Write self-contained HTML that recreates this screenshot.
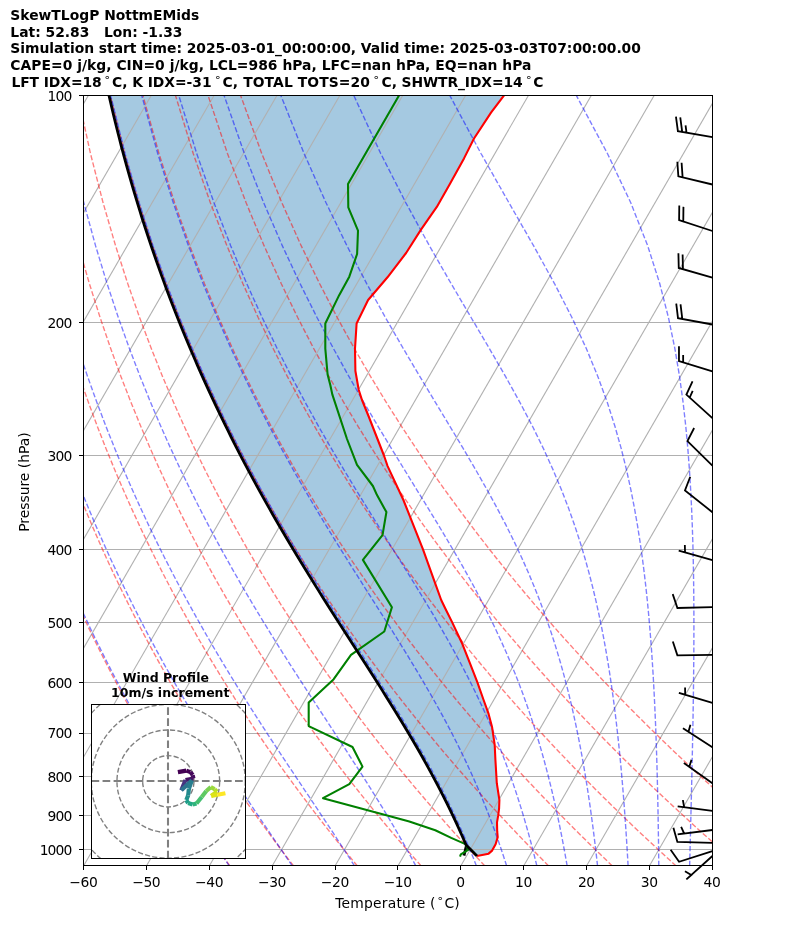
<!DOCTYPE html>
<html lang="en"><head><meta charset="utf-8"><title>SkewTLogP NottmEMids</title>
<style>html,body{margin:0;padding:0;background:#fff}svg{display:block}</style></head>
<body>
<svg width="794" height="937" viewBox="0 0 794 937" font-family="'DejaVu Sans', 'Liberation Sans', sans-serif">
<rect width="794" height="937" fill="#fff"/>
<defs><clipPath id="ax"><rect x="83.5" y="95.5" width="629.0" height="770.0"/></clipPath></defs>
<g clip-path="url(#ax)">
<path d="M477.00 855.90 L466.10 845.00 L463.72 839.49 L461.28 833.97 L458.80 828.46 L456.28 822.95 L453.70 817.43 L451.07 811.92 L448.40 806.41 L445.68 800.89 L442.91 795.38 L440.09 789.86 L437.22 784.35 L434.31 778.84 L431.35 773.32 L428.35 767.81 L425.30 762.30 L422.22 756.78 L419.09 751.27 L415.91 745.76 L412.71 740.24 L409.46 734.73 L406.18 729.22 L402.87 723.70 L399.52 718.19 L396.15 712.68 L392.75 707.16 L389.32 701.65 L385.87 696.14 L382.41 690.62 L378.92 685.11 L375.42 679.59 L371.91 674.08 L368.38 668.57 L364.85 663.05 L361.31 657.54 L357.76 652.03 L354.21 646.51 L350.67 641.00 L347.12 635.49 L343.58 629.97 L340.04 624.46 L336.51 618.95 L332.99 613.43 L329.48 607.92 L325.99 602.41 L322.50 596.89 L319.04 591.38 L315.58 585.87 L312.15 580.35 L308.73 574.84 L305.34 569.32 L301.96 563.81 L298.60 558.30 L295.27 552.78 L291.96 547.27 L288.67 541.76 L285.41 536.24 L282.17 530.73 L278.95 525.22 L275.76 519.70 L272.60 514.19 L269.46 508.68 L266.35 503.16 L263.26 497.65 L260.21 492.14 L257.17 486.62 L254.17 481.11 L251.19 475.59 L248.24 470.08 L245.32 464.57 L242.43 459.05 L239.56 453.54 L236.72 448.03 L233.91 442.51 L231.13 437.00 L228.37 431.49 L225.64 425.97 L222.94 420.46 L220.27 414.95 L217.62 409.43 L215.00 403.92 L212.41 398.41 L209.85 392.89 L207.31 387.38 L204.80 381.87 L202.32 376.35 L199.86 370.84 L197.43 365.32 L195.03 359.81 L192.66 354.30 L190.31 348.78 L187.99 343.27 L185.69 337.76 L183.42 332.24 L181.17 326.73 L178.96 321.22 L176.76 315.70 L174.60 310.19 L172.46 304.68 L170.34 299.16 L168.25 293.65 L166.18 288.14 L164.15 282.62 L162.13 277.11 L160.14 271.60 L158.18 266.08 L156.23 260.57 L154.32 255.05 L152.43 249.54 L150.56 244.03 L148.72 238.51 L146.90 233.00 L145.10 227.49 L143.33 221.97 L141.59 216.46 L139.86 210.95 L138.16 205.43 L136.49 199.92 L134.83 194.41 L133.20 188.89 L131.59 183.38 L130.01 177.87 L128.45 172.35 L126.91 166.84 L125.40 161.32 L123.90 155.81 L122.43 150.30 L120.98 144.78 L119.56 139.27 L118.15 133.76 L116.77 128.24 L115.41 122.73 L114.07 117.22 L112.75 111.70 L111.46 106.19 L110.19 100.68 L108.93 95.16 L107.70 89.65 L106.49 84.14 L105.30 78.62 L508.20 90.00 L503.90 95.60 L491.00 112.60 L474.00 138.50 L464.00 158.40 L450.00 183.80 L436.80 206.90 L420.80 229.90 L406.10 253.00 L387.50 277.30 L368.10 300.00 L356.60 323.50 L355.00 348.70 L355.40 371.00 L358.70 389.80 L362.00 400.00 L368.50 416.00 L383.95 455.50 L387.60 466.10 L403.40 500.00 L422.90 549.10 L435.10 583.20 L441.20 600.00 L445.30 608.50 L452.20 622.40 L461.80 642.70 L469.80 662.90 L477.30 682.20 L483.60 700.00 L488.60 713.90 L492.00 726.70 L494.70 744.80 L495.40 759.70 L496.80 783.20 L499.40 800.00 L499.10 808.30 L498.20 815.40 L497.00 822.40 L497.20 831.40 L497.70 837.10 L495.60 844.20 L492.10 850.60 L488.60 853.65 L477.00 855.90Z" fill="#1f77b4" fill-opacity="0.4"/>
<g fill="none" stroke="#b0b0b0" stroke-width="1.11">
<path d="M83.5 95.5 H712.5"/>
<path d="M83.5 322.5 H712.5"/>
<path d="M83.5 455.5 H712.5"/>
<path d="M83.5 549.5 H712.5"/>
<path d="M83.5 622.5 H712.5"/>
<path d="M83.5 682.5 H712.5"/>
<path d="M83.5 733.5 H712.5"/>
<path d="M83.5 776.5 H712.5"/>
<path d="M83.5 815.5 H712.5"/>
<path d="M83.5 849.5 H712.5"/>
<path d="M-419.41 865.93 L25.44 95.43"/>
<path d="M-356.54 865.93 L88.31 95.43"/>
<path d="M-293.67 865.93 L151.18 95.43"/>
<path d="M-230.80 865.93 L214.05 95.43"/>
<path d="M-167.93 865.93 L276.92 95.43"/>
<path d="M-105.06 865.93 L339.79 95.43"/>
<path d="M-42.19 865.93 L402.66 95.43"/>
<path d="M20.68 865.93 L465.53 95.43"/>
<path d="M83.55 865.93 L528.40 95.43"/>
<path d="M146.42 865.93 L591.27 95.43"/>
<path d="M209.29 865.93 L654.14 95.43"/>
<path d="M272.16 865.93 L717.01 95.43"/>
<path d="M335.03 865.93 L779.88 95.43"/>
<path d="M397.90 865.93 L842.75 95.43"/>
<path d="M460.77 865.93 L905.62 95.43"/>
<path d="M523.64 865.93 L968.49 95.43"/>
<path d="M586.51 865.93 L1031.36 95.43"/>
<path d="M649.38 865.93 L1094.23 95.43"/>
<path d="M712.25 865.93 L1157.10 95.43"/>
</g>
<g fill="none" stroke="#ff0000" stroke-opacity="0.5" stroke-width="1.39" stroke-dasharray="5.14 2.22">
<path d="M229.87 865.93 L225.50 859.82 L221.09 853.60 L216.64 847.26 L212.15 840.79 L207.62 834.19 L203.04 827.45 L198.42 820.58 L193.75 813.55 L189.04 806.38 L184.27 799.04 L179.46 791.53 L174.60 783.85 L169.68 775.99 L164.71 767.93 L159.68 759.66 L154.60 751.19 L149.46 742.48 L144.26 733.54 L138.99 724.35 L133.66 714.90 L128.27 705.16 L122.81 695.13 L117.28 684.78 L111.68 674.09 L106.00 663.04 L100.25 651.60 L94.41 639.75 L88.50 627.46 L82.50 614.69 L76.42 601.40 L70.25 587.54 L63.98 573.08 L57.63 557.95 L51.18 542.08 L44.63 525.41 L37.98 507.84 L31.23 489.28 L24.39 469.60 L17.44 448.67 L10.41 426.30 L3.28 402.30 L-3.92 376.40 L-11.18 348.27 L-18.47 317.51 L-25.75 283.55 L-32.94 245.66 L-39.94 202.81 L-46.56 153.50 L-52.46 95.43"/>
<path d="M293.62 865.93 L288.91 859.82 L284.16 853.60 L279.37 847.26 L274.52 840.79 L269.63 834.19 L264.69 827.45 L259.70 820.58 L254.66 813.55 L249.56 806.38 L244.41 799.04 L239.21 791.53 L233.95 783.85 L228.62 775.99 L223.24 767.93 L217.79 759.66 L212.28 751.19 L206.70 742.48 L201.06 733.54 L195.34 724.35 L189.55 714.90 L183.69 705.16 L177.74 695.13 L171.72 684.78 L165.61 674.09 L159.41 663.04 L153.13 651.60 L146.75 639.75 L140.28 627.46 L133.71 614.69 L127.04 601.40 L120.26 587.54 L113.37 573.08 L106.37 557.95 L99.25 542.08 L92.00 525.41 L84.64 507.84 L77.14 489.28 L69.51 469.60 L61.75 448.67 L53.86 426.30 L45.84 402.30 L37.68 376.40 L29.42 348.27 L21.05 317.51 L12.62 283.55 L4.18 245.66 L-4.18 202.81 L-12.30 153.50 L-19.90 95.43"/>
<path d="M357.37 865.93 L352.33 859.82 L347.23 853.60 L342.09 847.26 L336.89 840.79 L331.64 834.19 L326.34 827.45 L320.98 820.58 L315.57 813.55 L310.09 806.38 L304.56 799.04 L298.96 791.53 L293.30 783.85 L287.57 775.99 L281.77 767.93 L275.90 759.66 L269.97 751.19 L263.95 742.48 L257.86 733.54 L251.69 724.35 L245.44 714.90 L239.10 705.16 L232.67 695.13 L226.15 684.78 L219.54 674.09 L212.83 663.04 L206.02 651.60 L199.10 639.75 L192.07 627.46 L184.92 614.69 L177.66 601.40 L170.27 587.54 L162.76 573.08 L155.11 557.95 L147.31 542.08 L139.38 525.41 L131.29 507.84 L123.05 489.28 L114.64 469.60 L106.06 448.67 L97.31 426.30 L88.39 402.30 L79.29 376.40 L70.01 348.27 L60.57 317.51 L50.99 283.55 L41.30 245.66 L31.58 202.81 L21.95 153.50 L12.67 95.43"/>
<path d="M421.12 865.93 L415.74 859.82 L410.30 853.60 L404.81 847.26 L399.26 840.79 L393.66 834.19 L387.99 827.45 L382.26 820.58 L376.47 813.55 L370.62 806.38 L364.70 799.04 L358.71 791.53 L352.64 783.85 L346.51 775.99 L340.30 767.93 L334.02 759.66 L327.65 751.19 L321.20 742.48 L314.66 733.54 L308.04 724.35 L301.32 714.90 L294.51 705.16 L287.60 695.13 L280.59 684.78 L273.47 674.09 L266.25 663.04 L258.90 651.60 L251.44 639.75 L243.85 627.46 L236.13 614.69 L228.28 601.40 L220.28 587.54 L212.14 573.08 L203.84 557.95 L195.38 542.08 L186.75 525.41 L177.95 507.84 L168.95 489.28 L159.76 469.60 L150.37 448.67 L140.77 426.30 L130.94 402.30 L120.89 376.40 L110.61 348.27 L100.09 317.51 L89.36 283.55 L78.42 245.66 L67.34 202.81 L56.21 153.50 L45.23 95.43"/>
<path d="M484.88 865.93 L479.15 859.82 L473.37 853.60 L467.53 847.26 L461.63 840.79 L455.67 834.19 L449.64 827.45 L443.54 820.58 L437.38 813.55 L431.14 806.38 L424.84 799.04 L418.45 791.53 L411.99 783.85 L405.45 775.99 L398.83 767.93 L392.13 759.66 L385.33 751.19 L378.45 742.48 L371.47 733.54 L364.39 724.35 L357.21 714.90 L349.93 705.16 L342.53 695.13 L335.03 684.78 L327.41 674.09 L319.66 663.04 L311.79 651.60 L303.78 639.75 L295.63 627.46 L287.34 614.69 L278.90 601.40 L270.30 587.54 L261.53 573.08 L252.58 557.95 L243.45 542.08 L234.13 525.41 L224.60 507.84 L214.86 489.28 L204.89 469.60 L194.68 448.67 L184.22 426.30 L173.50 402.30 L162.49 376.40 L151.20 348.27 L139.61 317.51 L127.73 283.55 L115.54 245.66 L103.10 202.81 L90.46 153.50 L77.79 95.43"/>
<path d="M548.63 865.93 L542.57 859.82 L536.44 853.60 L530.26 847.26 L524.00 840.79 L517.68 834.19 L511.29 827.45 L504.82 820.58 L498.29 813.55 L491.67 806.38 L484.98 799.04 L478.20 791.53 L471.34 783.85 L464.40 775.99 L457.36 767.93 L450.24 759.66 L443.01 751.19 L435.69 742.48 L428.27 733.54 L420.74 724.35 L413.10 714.90 L405.34 705.16 L397.47 695.13 L389.47 684.78 L381.34 674.09 L373.08 663.04 L364.67 651.60 L356.12 639.75 L347.42 627.46 L338.55 614.69 L329.52 601.40 L320.31 587.54 L310.91 573.08 L301.32 557.95 L291.52 542.08 L281.50 525.41 L271.26 507.84 L260.76 489.28 L250.01 469.60 L238.99 448.67 L227.67 426.30 L216.05 402.30 L204.10 376.40 L191.80 348.27 L179.13 317.51 L166.09 283.55 L152.66 245.66 L138.86 202.81 L124.72 153.50 L110.36 95.43"/>
<path d="M612.38 865.93 L605.98 859.82 L599.52 853.60 L592.98 847.26 L586.37 840.79 L579.69 834.19 L572.94 827.45 L566.10 820.58 L559.19 813.55 L552.20 806.38 L545.12 799.04 L537.95 791.53 L530.69 783.85 L523.34 775.99 L515.89 767.93 L508.35 759.66 L500.70 751.19 L492.94 742.48 L485.07 733.54 L477.09 724.35 L468.98 714.90 L460.75 705.16 L452.40 695.13 L443.90 684.78 L435.27 674.09 L426.49 663.04 L417.56 651.60 L408.46 639.75 L399.20 627.46 L389.76 614.69 L380.14 601.40 L370.32 587.54 L360.30 573.08 L350.06 557.95 L339.59 542.08 L328.88 525.41 L317.91 507.84 L306.67 489.28 L295.14 469.60 L283.30 448.67 L271.13 426.30 L258.60 402.30 L245.70 376.40 L232.39 348.27 L218.66 317.51 L204.46 283.55 L189.78 245.66 L174.62 202.81 L158.97 153.50 L142.92 95.43"/>
<path d="M676.13 865.93 L669.40 859.82 L662.59 853.60 L655.70 847.26 L648.74 840.79 L641.71 834.19 L634.59 827.45 L627.39 820.58 L620.10 813.55 L612.72 806.38 L605.26 799.04 L597.70 791.53 L590.04 783.85 L582.29 775.99 L574.43 767.93 L566.46 759.66 L558.38 751.19 L550.19 742.48 L541.87 733.54 L533.44 724.35 L524.87 714.90 L516.17 705.16 L507.33 695.13 L498.34 684.78 L489.20 674.09 L479.91 663.04 L470.44 651.60 L460.81 639.75 L450.99 627.46 L440.97 614.69 L430.76 601.40 L420.34 587.54 L409.69 573.08 L398.80 557.95 L387.66 542.08 L376.25 525.41 L364.57 507.84 L352.58 489.28 L340.26 469.60 L327.61 448.67 L314.58 426.30 L301.16 402.30 L287.30 376.40 L272.99 348.27 L258.18 317.51 L242.83 283.55 L226.91 245.66 L210.38 202.81 L193.22 153.50 L175.48 95.43"/>
<path d="M739.89 865.93 L732.81 859.82 L725.66 853.60 L718.43 847.26 L711.11 840.79 L703.72 834.19 L696.24 827.45 L688.67 820.58 L681.01 813.55 L673.25 806.38 L665.40 799.04 L657.45 791.53 L649.39 783.85 L641.23 775.99 L632.96 767.93 L624.57 759.66 L616.06 751.19 L607.43 742.48 L598.68 733.54 L589.78 724.35 L580.76 714.90 L571.58 705.16 L562.26 695.13 L552.78 684.78 L543.14 674.09 L533.32 663.04 L523.33 651.60 L513.15 639.75 L502.77 627.46 L492.19 614.69 L481.38 601.40 L470.35 587.54 L459.07 573.08 L447.54 557.95 L435.73 542.08 L423.63 525.41 L411.22 507.84 L398.48 489.28 L385.39 469.60 L371.92 448.67 L358.03 426.30 L343.71 402.30 L328.91 376.40 L313.58 348.27 L297.70 317.51 L281.20 283.55 L264.03 245.66 L246.14 202.81 L227.48 153.50 L208.05 95.43"/>
<path d="M803.64 865.93 L796.22 859.82 L788.73 853.60 L781.15 847.26 L773.48 840.79 L765.73 834.19 L757.89 827.45 L749.95 820.58 L741.91 813.55 L733.78 806.38 L725.54 799.04 L717.20 791.53 L708.74 783.85 L700.17 775.99 L691.49 767.93 L682.68 759.66 L673.75 751.19 L664.68 742.48 L655.48 733.54 L646.13 724.35 L636.64 714.90 L627.00 705.16 L617.19 695.13 L607.22 684.78 L597.07 674.09 L586.74 663.04 L576.22 651.60 L565.49 639.75 L554.55 627.46 L543.40 614.69 L532.00 601.40 L520.36 587.54 L508.46 573.08 L496.27 557.95 L483.80 542.08 L471.00 525.41 L457.88 507.84 L444.39 489.28 L430.51 469.60 L416.22 448.67 L401.49 426.30 L386.26 402.30 L370.51 376.40 L354.18 348.27 L337.22 317.51 L319.56 283.55 L301.15 245.66 L281.89 202.81 L261.73 153.50 L240.61 95.43"/>
</g>
<g fill="none" stroke="#0000ff" stroke-opacity="0.5" stroke-width="1.39" stroke-dasharray="5.14 2.22">
<path d="M229.30 865.93 L225.17 859.82 L220.97 853.60 L216.72 847.26 L212.41 840.79 L208.04 834.19 L203.62 827.45 L199.13 820.58 L194.58 813.55 L189.97 806.38 L185.31 799.04 L180.58 791.53 L175.79 783.85 L170.93 775.99 L166.02 767.93 L161.04 759.66 L155.99 751.19 L150.89 742.48 L145.71 733.54 L140.47 724.35 L135.15 714.90 L129.77 705.16 L124.31 695.13 L118.79 684.78 L113.18 674.09 L107.50 663.04 L101.74 651.60 L95.90 639.75 L89.98 627.46 L83.97 614.69 L77.87 601.40 L71.68 587.54 L65.40 573.08 L59.03 557.95 L52.56 542.08 L45.99 525.41 L39.33 507.84 L32.56 489.28 L25.69 469.60 L18.72 448.67 L11.66 426.30 L4.51 402.30 L-2.72 376.40 L-10.01 348.27 L-17.33 317.51 L-24.64 283.55 L-31.87 245.66 L-38.91 202.81 L-45.57 153.50 L-51.52 95.43"/>
<path d="M292.25 865.93 L288.11 859.82 L283.88 853.60 L279.57 847.26 L275.17 840.79 L270.70 834.19 L266.14 827.45 L261.50 820.58 L256.77 813.55 L251.97 806.38 L247.08 799.04 L242.10 791.53 L237.05 783.85 L231.91 775.99 L226.68 767.93 L221.37 759.66 L215.98 751.19 L210.50 742.48 L204.94 733.54 L199.28 724.35 L193.55 714.90 L187.72 705.16 L181.80 695.13 L175.79 684.78 L169.69 674.09 L163.49 663.04 L157.20 651.60 L150.80 639.75 L144.31 627.46 L137.71 614.69 L131.00 601.40 L124.18 587.54 L117.25 573.08 L110.20 557.95 L103.03 542.08 L95.74 525.41 L88.32 507.84 L80.76 489.28 L73.08 469.60 L65.25 448.67 L57.29 426.30 L49.20 402.30 L40.97 376.40 L32.62 348.27 L24.17 317.51 L15.65 283.55 L7.11 245.66 L-1.36 202.81 L-9.60 153.50 L-17.33 95.43"/>
<path d="M354.49 865.93 L350.61 859.82 L346.62 853.60 L342.52 847.26 L338.32 840.79 L334.00 834.19 L329.56 827.45 L325.02 820.58 L320.35 813.55 L315.57 806.38 L310.68 799.04 L305.66 791.53 L300.53 783.85 L295.27 775.99 L289.90 767.93 L284.41 759.66 L278.80 751.19 L273.07 742.48 L267.22 733.54 L261.26 724.35 L255.17 714.90 L248.96 705.16 L242.64 695.13 L236.19 684.78 L229.62 674.09 L222.92 663.04 L216.11 651.60 L209.16 639.75 L202.09 627.46 L194.89 614.69 L187.55 601.40 L180.08 587.54 L172.47 573.08 L164.71 557.95 L156.80 542.08 L148.74 525.41 L140.52 507.84 L132.13 489.28 L123.57 469.60 L114.84 448.67 L105.92 426.30 L96.82 402.30 L87.53 376.40 L78.05 348.27 L68.40 317.51 L58.59 283.55 L48.65 245.66 L38.66 202.81 L28.74 153.50 L19.12 95.43"/>
<path d="M415.83 865.93 L412.55 859.82 L409.15 853.60 L405.63 847.26 L401.98 840.79 L398.20 834.19 L394.28 827.45 L390.22 820.58 L386.01 813.55 L381.65 806.38 L377.14 799.04 L372.47 791.53 L367.63 783.85 L362.64 775.99 L357.47 767.93 L352.14 759.66 L346.63 751.19 L340.95 742.48 L335.10 733.54 L329.07 724.35 L322.86 714.90 L316.48 705.16 L309.92 695.13 L303.18 684.78 L296.27 674.09 L289.19 663.04 L281.92 651.60 L274.49 639.75 L266.87 627.46 L259.08 614.69 L251.11 601.40 L242.96 587.54 L234.63 573.08 L226.11 557.95 L217.40 542.08 L208.50 525.41 L199.39 507.84 L190.07 489.28 L180.54 469.60 L170.78 448.67 L160.79 426.30 L150.56 402.30 L140.07 376.40 L129.32 348.27 L118.31 317.51 L107.05 283.55 L95.54 245.66 L83.82 202.81 L72.00 153.50 L60.24 95.43"/>
<path d="M476.45 865.93 L474.04 859.82 L471.51 853.60 L468.88 847.26 L466.13 840.79 L463.26 834.19 L460.25 827.45 L457.11 820.58 L453.83 813.55 L450.39 806.38 L446.79 799.04 L443.02 791.53 L439.06 783.85 L434.92 775.99 L430.58 767.93 L426.04 759.66 L421.27 751.19 L416.28 742.48 L411.06 733.54 L405.59 724.35 L399.87 714.90 L393.89 705.16 L387.65 695.13 L381.13 684.78 L374.35 674.09 L367.29 663.04 L359.95 651.60 L352.33 639.75 L344.43 627.46 L336.26 614.69 L327.81 601.40 L319.08 587.54 L310.08 573.08 L300.80 557.95 L291.25 542.08 L281.42 525.41 L271.32 507.84 L260.93 489.28 L250.25 469.60 L239.28 448.67 L227.99 426.30 L216.38 402.30 L204.44 376.40 L192.14 348.27 L179.47 317.51 L166.42 283.55 L152.98 245.66 L139.16 202.81 L125.01 153.50 L110.63 95.43"/>
<path d="M506.65 865.93 L504.70 859.82 L502.66 853.60 L500.53 847.26 L498.30 840.79 L495.96 834.19 L493.51 827.45 L490.94 820.58 L488.24 813.55 L485.41 806.38 L482.43 799.04 L479.30 791.53 L475.99 783.85 L472.51 775.99 L468.84 767.93 L464.97 759.66 L460.89 751.19 L456.57 742.48 L452.01 733.54 L447.20 724.35 L442.11 714.90 L436.74 705.16 L431.07 695.13 L425.08 684.78 L418.77 674.09 L412.13 663.04 L405.14 651.60 L397.79 639.75 L390.09 627.46 L382.02 614.69 L373.59 601.40 L364.79 587.54 L355.63 573.08 L346.10 557.95 L336.22 542.08 L325.97 525.41 L315.38 507.84 L304.42 489.28 L293.11 469.60 L281.44 448.67 L269.39 426.30 L256.96 402.30 L244.13 376.40 L230.88 348.27 L217.20 317.51 L203.05 283.55 L188.42 245.66 L173.30 202.81 L157.71 153.50 L141.72 95.43"/>
<path d="M536.86 865.93 L535.37 859.82 L533.81 853.60 L532.17 847.26 L530.46 840.79 L528.67 834.19 L526.79 827.45 L524.81 820.58 L522.72 813.55 L520.53 806.38 L518.22 799.04 L515.78 791.53 L513.19 783.85 L510.46 775.99 L507.57 767.93 L504.50 759.66 L501.25 751.19 L497.79 742.48 L494.11 733.54 L490.18 724.35 L486.00 714.90 L481.55 705.16 L476.79 695.13 L471.71 684.78 L466.28 674.09 L460.49 663.04 L454.30 651.60 L447.70 639.75 L440.67 627.46 L433.18 614.69 L425.21 601.40 L416.77 587.54 L407.83 573.08 L398.40 557.95 L388.46 542.08 L378.03 525.41 L367.10 507.84 L355.68 489.28 L343.79 469.60 L331.41 448.67 L318.55 426.30 L305.21 402.30 L291.37 376.40 L277.03 348.27 L262.14 317.51 L246.70 283.55 L230.66 245.66 L214.00 202.81 L196.69 153.50 L178.78 95.43"/>
<path d="M567.15 865.93 L566.08 859.82 L564.97 853.60 L563.81 847.26 L562.59 840.79 L561.31 834.19 L559.96 827.45 L558.55 820.58 L557.06 813.55 L555.49 806.38 L553.83 799.04 L552.07 791.53 L550.21 783.85 L548.24 775.99 L546.14 767.93 L543.92 759.66 L541.54 751.19 L539.01 742.48 L536.30 733.54 L533.40 724.35 L530.28 714.90 L526.94 705.16 L523.34 695.13 L519.46 684.78 L515.27 674.09 L510.75 663.04 L505.85 651.60 L500.54 639.75 L494.78 627.46 L488.53 614.69 L481.75 601.40 L474.41 587.54 L466.45 573.08 L457.85 557.95 L448.57 542.08 L438.60 525.41 L427.91 507.84 L416.50 489.28 L404.37 469.60 L391.53 448.67 L378.00 426.30 L363.78 402.30 L348.87 376.40 L333.29 348.27 L317.02 317.51 L300.02 283.55 L282.28 245.66 L263.73 202.81 L244.34 153.50 L224.08 95.43"/>
<path d="M597.55 865.93 L596.88 859.82 L596.17 853.60 L595.42 847.26 L594.64 840.79 L593.82 834.19 L592.96 827.45 L592.06 820.58 L591.10 813.55 L590.09 806.38 L589.02 799.04 L587.89 791.53 L586.69 783.85 L585.42 775.99 L584.06 767.93 L582.62 759.66 L581.07 751.19 L579.42 742.48 L577.64 733.54 L575.74 724.35 L573.69 714.90 L571.47 705.16 L569.07 695.13 L566.47 684.78 L563.64 674.09 L560.56 663.04 L557.19 651.60 L553.50 639.75 L549.45 627.46 L544.98 614.69 L540.05 601.40 L534.60 587.54 L528.55 573.08 L521.84 557.95 L514.39 542.08 L506.12 525.41 L496.94 507.84 L486.78 489.28 L475.58 469.60 L463.30 448.67 L449.90 426.30 L435.39 402.30 L419.79 376.40 L403.12 348.27 L385.41 317.51 L366.67 283.55 L346.89 245.66 L326.04 202.81 L304.05 153.50 L280.85 95.43"/>
<path d="M628.10 865.93 L627.76 859.82 L627.39 853.60 L627.01 847.26 L626.61 840.79 L626.19 834.19 L625.74 827.45 L625.27 820.58 L624.77 813.55 L624.24 806.38 L623.68 799.04 L623.08 791.53 L622.45 783.85 L621.77 775.99 L621.05 767.93 L620.27 759.66 L619.43 751.19 L618.54 742.48 L617.57 733.54 L616.53 724.35 L615.40 714.90 L614.17 705.16 L612.84 695.13 L611.38 684.78 L609.79 674.09 L608.04 663.04 L606.11 651.60 L603.98 639.75 L601.62 627.46 L599.00 614.69 L596.06 601.40 L592.77 587.54 L589.06 573.08 L584.87 557.95 L580.10 542.08 L574.65 525.41 L568.42 507.84 L561.25 489.28 L552.99 469.60 L543.46 448.67 L532.48 426.30 L519.87 402.30 L505.48 376.40 L489.23 348.27 L471.09 317.51 L451.10 283.55 L429.34 245.66 L405.87 202.81 L380.71 153.50 L353.79 95.43"/>
<path d="M658.80 865.93 L658.73 859.82 L658.66 853.60 L658.58 847.26 L658.49 840.79 L658.39 834.19 L658.29 827.45 L658.17 820.58 L658.05 813.55 L657.92 806.38 L657.77 799.04 L657.61 791.53 L657.43 783.85 L657.23 775.99 L657.02 767.93 L656.78 759.66 L656.52 751.19 L656.23 742.48 L655.91 733.54 L655.56 724.35 L655.16 714.90 L654.73 705.16 L654.24 695.13 L653.69 684.78 L653.09 674.09 L652.40 663.04 L651.63 651.60 L650.77 639.75 L649.78 627.46 L648.67 614.69 L647.40 601.40 L645.94 587.54 L644.27 573.08 L642.34 557.95 L640.10 542.08 L637.48 525.41 L634.41 507.84 L630.77 489.28 L626.44 469.60 L621.23 448.67 L614.93 426.30 L607.24 402.30 L597.82 376.40 L586.20 348.27 L571.92 317.51 L554.47 283.55 L533.53 245.66 L508.98 202.81 L480.99 153.50 L449.77 95.43"/>
<path d="M689.64 865.93 L689.79 859.82 L689.95 853.60 L690.11 847.26 L690.28 840.79 L690.44 834.19 L690.61 827.45 L690.78 820.58 L690.96 813.55 L691.13 806.38 L691.31 799.04 L691.49 791.53 L691.67 783.85 L691.85 775.99 L692.03 767.93 L692.21 759.66 L692.39 751.19 L692.57 742.48 L692.74 733.54 L692.91 724.35 L693.08 714.90 L693.23 705.16 L693.38 695.13 L693.52 684.78 L693.64 674.09 L693.74 663.04 L693.83 651.60 L693.88 639.75 L693.91 627.46 L693.89 614.69 L693.82 601.40 L693.70 587.54 L693.50 573.08 L693.22 557.95 L692.82 542.08 L692.28 525.41 L691.57 507.84 L690.63 489.28 L689.42 469.60 L687.84 448.67 L685.78 426.30 L683.09 402.30 L679.54 376.40 L674.82 348.27 L668.45 317.51 L659.73 283.55 L647.65 245.66 L630.77 202.81 L607.43 153.50 L576.30 95.43"/>
<path d="M720.61 865.93 L720.94 859.82 L721.28 853.60 L721.63 847.26 L721.99 840.79 L722.36 834.19 L722.74 827.45 L723.13 820.58 L723.53 813.55 L723.95 806.38 L724.37 799.04 L724.81 791.53 L725.27 783.85 L725.73 775.99 L726.21 767.93 L726.70 759.66 L727.21 751.19 L727.73 742.48 L728.27 733.54 L728.83 724.35 L729.40 714.90 L729.99 705.16 L730.59 695.13 L731.22 684.78 L731.86 674.09 L732.53 663.04 L733.21 651.60 L733.91 639.75 L734.63 627.46 L735.37 614.69 L736.13 601.40 L736.90 587.54 L737.70 573.08 L738.50 557.95 L739.31 542.08 L740.13 525.41 L740.94 507.84 L741.74 489.28 L742.51 469.60 L743.23 448.67 L743.87 426.30 L744.38 402.30 L744.69 376.40 L744.71 348.27 L744.27 317.51 L743.11 283.55 L740.81 245.66 L736.59 202.81 L729.02 153.50 L715.31 95.43"/>
<path d="M751.69 865.93 L752.15 859.82 L752.63 853.60 L753.13 847.26 L753.63 840.79 L754.16 834.19 L754.70 827.45 L755.25 820.58 L755.83 813.55 L756.42 806.38 L757.03 799.04 L757.66 791.53 L758.31 783.85 L758.99 775.99 L759.68 767.93 L760.40 759.66 L761.15 751.19 L761.92 742.48 L762.72 733.54 L763.55 724.35 L764.42 714.90 L765.31 705.16 L766.24 695.13 L767.21 684.78 L768.22 674.09 L769.27 663.04 L770.36 651.60 L771.50 639.75 L772.70 627.46 L773.95 614.69 L775.25 601.40 L776.62 587.54 L778.06 573.08 L779.57 557.95 L781.15 542.08 L782.83 525.41 L784.59 507.84 L786.45 489.28 L788.42 469.60 L790.50 448.67 L792.70 426.30 L795.04 402.30 L797.51 376.40 L800.13 348.27 L802.88 317.51 L805.74 283.55 L808.67 245.66 L811.55 202.81 L814.10 153.50 L815.69 95.43"/>
<path d="M782.86 865.93 L783.43 859.82 L784.01 853.60 L784.60 847.26 L785.22 840.79 L785.86 834.19 L786.51 827.45 L787.18 820.58 L787.88 813.55 L788.60 806.38 L789.34 799.04 L790.11 791.53 L790.91 783.85 L791.73 775.99 L792.58 767.93 L793.46 759.66 L794.38 751.19 L795.32 742.48 L796.31 733.54 L797.33 724.35 L798.39 714.90 L799.50 705.16 L800.65 695.13 L801.86 684.78 L803.11 674.09 L804.42 663.04 L805.79 651.60 L807.23 639.75 L808.74 627.46 L810.32 614.69 L811.99 601.40 L813.74 587.54 L815.59 573.08 L817.55 557.95 L819.63 542.08 L821.84 525.41 L824.19 507.84 L826.70 489.28 L829.39 469.60 L832.28 448.67 L835.40 426.30 L838.78 402.30 L842.46 376.40 L846.48 348.27 L850.91 317.51 L855.83 283.55 L861.32 245.66 L867.52 202.81 L874.57 153.50 L882.67 95.43"/>
</g>
<path d="M464.00 855.60 L466.30 846.00" fill="none" stroke="#000" stroke-width="2.78"/>
<path d="M477.00 855.90 L488.60 853.65 L492.10 850.60 L495.60 844.20 L497.70 837.10 L497.20 831.40 L497.00 822.40 L498.20 815.40 L499.10 808.30 L499.40 800.00 L496.80 783.20 L495.40 759.70 L494.70 744.80 L492.00 726.70 L488.60 713.90 L483.60 700.00 L477.30 682.20 L469.80 662.90 L461.80 642.70 L452.20 622.40 L445.30 608.50 L441.20 600.00 L435.10 583.20 L422.90 549.10 L403.40 500.00 L387.60 466.10 L383.95 455.50 L368.50 416.00 L362.00 400.00 L358.70 389.80 L355.40 371.00 L355.00 348.70 L356.60 323.50 L368.10 300.00 L387.50 277.30 L406.10 253.00 L420.80 229.90 L436.80 206.90 L450.00 183.80 L464.00 158.40 L474.00 138.50 L491.00 112.60 L503.90 95.60 L508.20 90.00" fill="none" stroke="#ff0000" stroke-width="2.08" stroke-linejoin="round"/>
<path d="M460.05 856.60 L460.80 854.30 L468.20 849.80 L465.40 844.10 L451.20 837.90 L435.30 830.20 L409.30 821.40 L390.00 816.30 L323.00 798.20 L349.30 784.10 L362.50 766.60 L352.50 747.00 L308.70 726.10 L308.70 702.50 L333.70 679.20 L351.00 654.90 L384.30 631.50 L391.90 607.30 L362.90 559.90 L382.50 535.20 L386.40 512.10 L377.00 495.10 L372.90 486.00 L357.00 464.90 L347.00 439.00 L332.30 394.40 L330.30 385.00 L327.60 374.50 L325.30 348.70 L325.30 323.50 L339.30 294.90 L349.30 276.70 L357.10 254.00 L358.00 230.70 L348.30 207.30 L348.00 184.00 L399.00 95.50 L402.20 90.00" fill="none" stroke="#008000" stroke-width="2.08" stroke-linejoin="round"/>
<path d="M477.00 855.90 L466.10 845.00 L463.72 839.49 L461.28 833.97 L458.80 828.46 L456.28 822.95 L453.70 817.43 L451.07 811.92 L448.40 806.41 L445.68 800.89 L442.91 795.38 L440.09 789.86 L437.22 784.35 L434.31 778.84 L431.35 773.32 L428.35 767.81 L425.30 762.30 L422.22 756.78 L419.09 751.27 L415.91 745.76 L412.71 740.24 L409.46 734.73 L406.18 729.22 L402.87 723.70 L399.52 718.19 L396.15 712.68 L392.75 707.16 L389.32 701.65 L385.87 696.14 L382.41 690.62 L378.92 685.11 L375.42 679.59 L371.91 674.08 L368.38 668.57 L364.85 663.05 L361.31 657.54 L357.76 652.03 L354.21 646.51 L350.67 641.00 L347.12 635.49 L343.58 629.97 L340.04 624.46 L336.51 618.95 L332.99 613.43 L329.48 607.92 L325.99 602.41 L322.50 596.89 L319.04 591.38 L315.58 585.87 L312.15 580.35 L308.73 574.84 L305.34 569.32 L301.96 563.81 L298.60 558.30 L295.27 552.78 L291.96 547.27 L288.67 541.76 L285.41 536.24 L282.17 530.73 L278.95 525.22 L275.76 519.70 L272.60 514.19 L269.46 508.68 L266.35 503.16 L263.26 497.65 L260.21 492.14 L257.17 486.62 L254.17 481.11 L251.19 475.59 L248.24 470.08 L245.32 464.57 L242.43 459.05 L239.56 453.54 L236.72 448.03 L233.91 442.51 L231.13 437.00 L228.37 431.49 L225.64 425.97 L222.94 420.46 L220.27 414.95 L217.62 409.43 L215.00 403.92 L212.41 398.41 L209.85 392.89 L207.31 387.38 L204.80 381.87 L202.32 376.35 L199.86 370.84 L197.43 365.32 L195.03 359.81 L192.66 354.30 L190.31 348.78 L187.99 343.27 L185.69 337.76 L183.42 332.24 L181.17 326.73 L178.96 321.22 L176.76 315.70 L174.60 310.19 L172.46 304.68 L170.34 299.16 L168.25 293.65 L166.18 288.14 L164.15 282.62 L162.13 277.11 L160.14 271.60 L158.18 266.08 L156.23 260.57 L154.32 255.05 L152.43 249.54 L150.56 244.03 L148.72 238.51 L146.90 233.00 L145.10 227.49 L143.33 221.97 L141.59 216.46 L139.86 210.95 L138.16 205.43 L136.49 199.92 L134.83 194.41 L133.20 188.89 L131.59 183.38 L130.01 177.87 L128.45 172.35 L126.91 166.84 L125.40 161.32 L123.90 155.81 L122.43 150.30 L120.98 144.78 L119.56 139.27 L118.15 133.76 L116.77 128.24 L115.41 122.73 L114.07 117.22 L112.75 111.70 L111.46 106.19 L110.19 100.68 L108.93 95.16 L107.70 89.65 L106.49 84.14 L105.30 78.62" fill="none" stroke="#000" stroke-width="2.78" stroke-linejoin="round"/>
</g>
<g fill="none" stroke="#000" stroke-width="1.8" stroke-linejoin="miter" stroke-linecap="butt">
<path d="M712.40 137.10 L677.90 131.20 L675.95 116.67 L677.90 131.20 L682.21 131.94 L680.26 117.40 L682.21 131.94 L686.53 132.68 L685.55 125.41 L686.53 132.68"/>
<path d="M712.40 184.50 L678.35 176.39 L677.34 161.76 L678.35 176.39 L682.61 177.40 L681.60 162.77 L682.61 177.40"/>
<path d="M712.40 231.00 L679.11 220.18 L679.28 205.52 L679.11 220.18 L683.27 221.54 L683.44 206.87 L683.27 221.54"/>
<path d="M712.40 277.60 L678.76 267.95 L678.41 253.29 L678.76 267.95 L682.96 269.16 L682.61 254.50 L682.96 269.16"/>
<path d="M712.40 324.50 L677.99 318.12 L676.24 303.56 L677.99 318.12 L682.29 318.92 L680.54 304.36 L682.29 318.92"/>
<path d="M712.40 371.40 L678.98 360.99 L678.97 346.32 L678.98 360.99 L683.16 362.29 L683.15 354.96 L683.16 362.29"/>
<path d="M712.40 418.05 L686.39 394.63 L692.51 381.30 L686.39 394.63 L689.64 397.56 L692.70 390.89 L689.64 397.56"/>
<path d="M712.40 465.60 L687.44 441.07 L694.13 428.02 L687.44 441.07"/>
<path d="M712.40 512.20 L684.97 490.46 L690.24 476.77 L684.97 490.46"/>
<path d="M712.40 560.10 L678.72 550.57 L685.04 552.36 L684.84 545.03 L685.04 552.36"/>
<path d="M712.40 607.20 L677.41 607.99 L672.72 594.10 L677.41 607.99"/>
<path d="M712.40 654.90 L677.40 655.39 L672.83 641.45 L677.40 655.39"/>
<path d="M712.40 702.90 L678.88 692.84 L685.16 694.73 L685.08 687.39 L685.16 694.73"/>
<path d="M712.40 747.20 L682.95 728.29 L688.47 731.84 L690.41 724.76 L688.47 731.84"/>
<path d="M712.40 783.30 L683.87 763.03 L689.22 766.83 L691.49 759.85 L689.22 766.83"/>
<path d="M712.40 810.80 L677.67 806.47 L684.18 807.29 L682.88 800.07 L684.18 807.29"/>
<path d="M712.40 830.00 L677.67 834.33 L684.18 833.51 L681.14 826.84 L684.18 833.51"/>
<path d="M712.40 842.90 L677.41 841.98 L673.40 827.87 L677.41 841.98"/>
<path d="M712.40 851.10 L679.08 861.80 L670.63 849.81 L679.08 861.80"/>
<path d="M712.40 856.00 L686.39 879.42 L691.27 875.03 L684.96 871.29 L691.27 875.03"/>
</g>
<rect x="83.5" y="95.5" width="629.0" height="770.0" fill="none" stroke="#000" stroke-width="1.11" shape-rendering="crispEdges"/>
<g stroke="#000" stroke-width="1.11" shape-rendering="crispEdges">
<path d="M78.64 95.5 H83.5"/>
<path d="M78.64 322.5 H83.5"/>
<path d="M78.64 455.5 H83.5"/>
<path d="M78.64 549.5 H83.5"/>
<path d="M78.64 622.5 H83.5"/>
<path d="M78.64 682.5 H83.5"/>
<path d="M78.64 733.5 H83.5"/>
<path d="M78.64 776.5 H83.5"/>
<path d="M78.64 815.5 H83.5"/>
<path d="M78.64 849.5 H83.5"/>
<path d="M83.5 865.5 V870.36"/>
<path d="M146.5 865.5 V870.36"/>
<path d="M209.5 865.5 V870.36"/>
<path d="M272.5 865.5 V870.36"/>
<path d="M335.5 865.5 V870.36"/>
<path d="M397.5 865.5 V870.36"/>
<path d="M460.5 865.5 V870.36"/>
<path d="M523.5 865.5 V870.36"/>
<path d="M586.5 865.5 V870.36"/>
<path d="M649.5 865.5 V870.36"/>
<path d="M712.5 865.5 V870.36"/>
</g>
<g font-size="13.89" fill="#000">
<text x="71.55" y="100.73" text-anchor="end" letter-spacing="-0.85">100</text>
<text x="71.55" y="327.86" text-anchor="end" letter-spacing="-0.85">200</text>
<text x="71.55" y="460.72" text-anchor="end" letter-spacing="-0.85">300</text>
<text x="71.55" y="554.99" text-anchor="end" letter-spacing="-0.85">400</text>
<text x="71.55" y="628.11" text-anchor="end" letter-spacing="-0.85">500</text>
<text x="71.55" y="687.85" text-anchor="end" letter-spacing="-0.85">600</text>
<text x="71.55" y="738.37" text-anchor="end" letter-spacing="-0.85">700</text>
<text x="71.55" y="782.12" text-anchor="end" letter-spacing="-0.85">800</text>
<text x="71.55" y="820.72" text-anchor="end" letter-spacing="-0.85">900</text>
<text x="71.55" y="855.24" text-anchor="end" letter-spacing="-0.85">1000</text>
<text x="83.35" y="887.23" text-anchor="middle" letter-spacing="-0.4">−60</text>
<text x="146.22" y="887.23" text-anchor="middle" letter-spacing="-0.4">−50</text>
<text x="209.09" y="887.23" text-anchor="middle" letter-spacing="-0.4">−40</text>
<text x="271.96" y="887.23" text-anchor="middle" letter-spacing="-0.4">−30</text>
<text x="334.83" y="887.23" text-anchor="middle" letter-spacing="-0.4">−20</text>
<text x="397.70" y="887.23" text-anchor="middle" letter-spacing="-0.4">−10</text>
<text x="460.57" y="887.23" text-anchor="middle" letter-spacing="-0.4">0</text>
<text x="523.44" y="887.23" text-anchor="middle" letter-spacing="-0.4">10</text>
<text x="586.31" y="887.23" text-anchor="middle" letter-spacing="-0.4">20</text>
<text x="649.18" y="887.23" text-anchor="middle" letter-spacing="-0.4">30</text>
<text x="712.05" y="887.23" text-anchor="middle" letter-spacing="-0.4">40</text>
<text x="335.3" y="907.9" textLength="100.1" lengthAdjust="spacing">Temperature (</text>
<text x="439.9" y="902.3" font-size="11" text-anchor="middle">∘</text>
<text x="444.5" y="907.9">C)</text>
<text transform="translate(29.2 482.08) rotate(-90)" text-anchor="middle">Pressure (hPa)</text>
</g>
<g font-size="13.89" font-weight="bold" fill="#000">
<text x="10.3" y="20.3">SkewTLogP NottmEMids</text>
<text x="10.3" y="36.9" xml:space="preserve">Lat: 52.83   Lon: -1.33</text>
<text x="10.3" y="53.2" textLength="630.6" lengthAdjust="spacing">Simulation start time: 2025-03-01_00:00:00, Valid time: 2025-03-03T07:00:00.00</text>
<text x="10.3" y="70.0" textLength="521.1" lengthAdjust="spacing">CAPE=0 j/kg, CIN=0 j/kg, LCL=986 hPa, LFC=nan hPa, EQ=nan hPa</text>
<text x="11.4" y="86.95" textLength="90.3" lengthAdjust="spacing">LFT IDX=18</text>
<text x="112.0" y="86.95" textLength="99.6" lengthAdjust="spacing">C, K IDX=-31</text>
<text x="222.6" y="86.95" textLength="147.4" lengthAdjust="spacing">C, TOTAL TOTS=20</text>
<text x="381.6" y="86.95" textLength="141.0" lengthAdjust="spacing">C, SHWTR_IDX=14</text>
<text x="533.2" y="86.95">C</text>
<text x="107.0" y="81.0" font-size="11" font-weight="normal" text-anchor="middle">∘</text>
<text x="217.4" y="81.0" font-size="11" font-weight="normal" text-anchor="middle">∘</text>
<text x="376.0" y="81.0" font-size="11" font-weight="normal" text-anchor="middle">∘</text>
<text x="528.5" y="81.0" font-size="11" font-weight="normal" text-anchor="middle">∘</text>
</g>
<defs><clipPath id="hc"><rect x="91.5" y="704.5" width="154.0" height="154.0"/></clipPath></defs>
<rect x="91.5" y="704.5" width="154.0" height="154.0" fill="#fff"/>
<g clip-path="url(#hc)" fill="none">
<g stroke="#808080" stroke-width="1.39" stroke-dasharray="5.14 2.22">
<path d="M193.97 781.3 A25.67 25.67 0 0 0 142.63 781.3 A25.67 25.67 0 0 0 193.97 781.3"/>
<path d="M219.63 781.3 A51.33 51.33 0 0 0 116.97 781.3 A51.33 51.33 0 0 0 219.63 781.3"/>
<path d="M245.30 781.3 A77.00 77.00 0 0 0 91.30 781.3 A77.00 77.00 0 0 0 245.30 781.3"/>
<path d="M270.97 781.3 A102.67 102.67 0 0 0 65.63 781.3 A102.67 102.67 0 0 0 270.97 781.3"/>
</g>
<g stroke="#808080" stroke-width="2.08" stroke-dasharray="7.71 3.33">
<path d="M168.0 858.5 V704.5"/><path d="M91.5 781.0 H245.5"/>
</g>
<g stroke-width="4.17" stroke-linecap="butt">
<path d="M177.9 772.1 L186.3 770.6" stroke="#440154"/>
<path d="M186.3 770.6 L190.4 772.1" stroke="#440154"/>
<path d="M190.4 772.1 L192.7 775.1" stroke="#46085c"/>
<path d="M192.7 775.1 L193.4 778.5" stroke="#460b5e"/>
<path d="M193.4 778.5 L185.5 780.0" stroke="#471365"/>
<path d="M185.5 780.0 L181.3 790.2" stroke="#463480"/>
<path d="M181.3 790.2 L191.9 780.4" stroke="#2c738e"/>
<path d="M191.9 780.4 L188.9 788.7" stroke="#287d8e"/>
<path d="M188.9 788.7 L188.1 795.5" stroke="#23898e"/>
<path d="M188.1 795.5 L186.3 800.1" stroke="#21918c"/>
<path d="M186.3 800.1 L188.1 803.1" stroke="#1e9c89"/>
<path d="M188.1 803.1 L192.7 804.6" stroke="#22a884"/>
<path d="M192.7 804.6 L196.5 803.5" stroke="#2fb47c"/>
<path d="M196.5 803.5 L201.7 797.0" stroke="#44bf70"/>
<path d="M201.7 797.0 L206.3 791.0" stroke="#5ec962"/>
<path d="M206.3 791.0 L210.8 787.2" stroke="#7ad151"/>
<path d="M210.8 787.2 L214.6 789.1" stroke="#9bd93c"/>
<path d="M214.6 789.1 L216.9 791.7" stroke="#b0dd2f"/>
<path d="M216.9 791.7 L211.2 795.9" stroke="#cae11f"/>
<path d="M211.2 795.9 L217.6 794.8" stroke="#dfe318"/>
<path d="M217.6 794.8 L225.4 793.3" stroke="#fde725"/>
</g></g>
<rect x="91.5" y="704.5" width="154.0" height="154.0" fill="none" stroke="#000" stroke-width="1.11" shape-rendering="crispEdges"/>
<g font-size="12.5" font-weight="bold" text-anchor="middle" fill="#000"><text x="165.8" y="682.0">Wind Profile</text><text x="170.3" y="697.2">10m/s increment</text></g>
</svg>
</body></html>
